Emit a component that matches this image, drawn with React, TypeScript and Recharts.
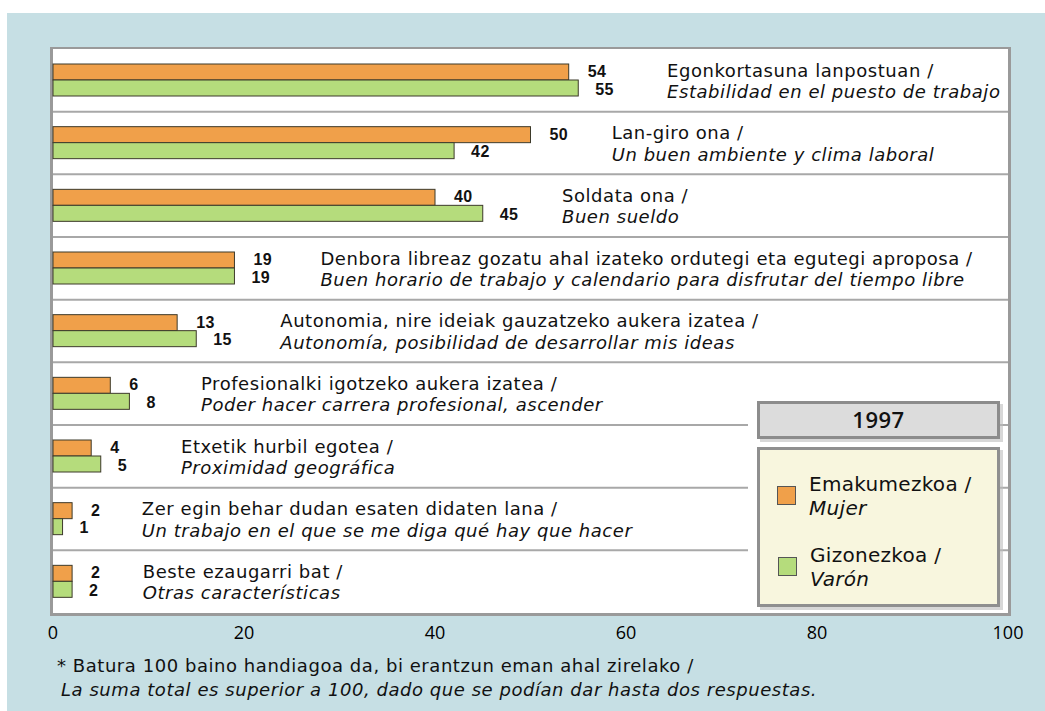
import React from 'react';
import { BarChart, Bar, XAxis, YAxis, CartesianGrid } from 'recharts';

// ---------- data ----------
const basqueLabels = [
  'Egonkortasuna lanpostuan /',
  'Lan-giro ona /',
  'Soldata ona /',
  'Denbora libreaz gozatu ahal izateko ordutegi eta egutegi aproposa /',
  'Autonomia, nire ideiak gauzatzeko aukera izatea /',
  'Profesionalki igotzeko aukera izatea /',
  'Etxetik hurbil egotea /',
  'Zer egin behar dudan esaten didaten lana /',
  'Beste ezaugarri bat /',
];
const spanishLabels = [
  'Estabilidad en el puesto de trabajo',
  'Un buen ambiente y clima laboral',
  'Buen sueldo',
  'Buen horario de trabajo y calendario para disfrutar del tiempo libre',
  'Autonomía, posibilidad de desarrollar mis ideas',
  'Poder hacer carrera profesional, ascender',
  'Proximidad geográfica',
  'Un trabajo en el que se me diga qué hay que hacer',
  'Otras características',
];
const womenValues = [54, 50, 40, 19, 13, 6, 4, 2, 2];
const menValues = [55, 42, 45, 19, 15, 8, 5, 1, 2];
const xTicks = [0, 20, 40, 60, 80, 100];
const legendYear = '1997';
const womenName = ['Emakumezkoa /', 'Mujer'];
const menName = ['Gizonezkoa /', 'Varón'];
const footnoteLines = [
  '* Batura 100 baino handiagoa da, bi erantzun eman ahal zirelako /',
  'La suma total es superior a 100, dado que se podían dar hasta dos respuestas.',
];

// ---------- layout (kept apart from data) ----------
// where each row's text starts, expressed in axis units
const labelStartAt = [64.3, 58.5, 53.3, 28, 23.8, 15.5, 13.4, 9.3, 9.4];

const data = basqueLabels.map((b, i) => ({
  name: 'c' + i,
  basque: b,
  spanish: spanishLabels[i],
  women: womenValues[i],
  men: menValues[i],
}));

const TEXT_FONT = '"DejaVu Sans", Verdana, sans-serif';
const NUM_FONT = '"Liberation Sans", Arial, sans-serif';
const ORANGE = '#F0A04A';
const GREEN = '#B5DC7C';
const BAR_STROKE = '#3d3a2a';
const TEXT_SIZE = 18;
const TEXT_SPACING = 0.55;
const NUM_SIZE = 16;

const WomenBar = (p: any) => {
  const { x, y, width, height, payload } = p;
  return (
    <g>
      <rect x={x} y={y} width={width} height={height} fill={ORANGE} stroke={BAR_STROKE} strokeWidth={1} />
      <text
        x={x + width + 19}
        y={y + height / 2 - 0.5}
        dominantBaseline="central"
        fontFamily={NUM_FONT}
        fontWeight={700}
        fontSize={NUM_SIZE}
        letterSpacing={0.4}
        fill="#111"
      >
        {payload.women}
      </text>
    </g>
  );
};

const MenBar = (p: any) => {
  const { x, y, width, height, payload } = p;
  const idx = typeof p.index === 'number' ? p.index : data.findIndex((d) => d.name === payload.name);
  const unit = width / payload.men;
  const tx = x + labelStartAt[idx] * unit;
  return (
    <g>
      <rect x={x} y={y} width={width} height={height} fill={GREEN} stroke={BAR_STROKE} strokeWidth={1} />
      <text
        x={x + width + 17}
        y={y + height / 2 + 1}
        dominantBaseline="central"
        fontFamily={NUM_FONT}
        fontWeight={700}
        fontSize={NUM_SIZE}
        letterSpacing={0.4}
        fill="#111"
      >
        {payload.men}
      </text>
      <text x={tx} y={y - 3.5} fontFamily={TEXT_FONT} fontSize={TEXT_SIZE} letterSpacing={TEXT_SPACING} fill="#111">
        {payload.basque}
      </text>
      <text
        x={tx}
        y={y + 18}
        fontFamily={TEXT_FONT}
        fontSize={TEXT_SIZE}
        letterSpacing={TEXT_SPACING}
        fontStyle="italic"
        fill="#111"
      >
        {payload.spanish}
      </text>
    </g>
  );
};

const rowBoundaries = (props: any) => {
  const { offset } = props;
  const n = data.length;
  const out: number[] = [];
  for (let i = 1; i < n; i++) out.push(offset.top + (offset.height * i) / n);
  return out;
};

export default function App() {
  return (
    <div style={{ position: 'absolute', left: 0, top: 0, width: 1045, height: 711, background: '#ffffff', overflow: 'hidden' }}>
      {/* blue frame */}
      <div style={{ position: 'absolute', left: 7, top: 13, width: 1038, height: 698, background: '#C6DFE4' }} />
      {/* plot panel */}
      <div
        style={{
          position: 'absolute',
          left: 50,
          top: 47,
          width: 961,
          height: 569,
          boxSizing: 'border-box',
          background: '#ffffff',
          borderLeft: '3px solid #9a9a9a',
          borderTop: '2px solid #9a9a9a',
          borderRight: '3px solid #9a9a9a',
          borderBottom: '3px solid #9a9a9a',
        }}
      />
      <div style={{ position: 'absolute', left: 0, top: 0 }}>
        <BarChart
          width={1045}
          height={711}
          data={data}
          layout="vertical"
          barGap={0}
          margin={{ top: 49, right: 37, bottom: 68, left: 53 }}
        >
          <CartesianGrid
            vertical={false}
            stroke="#a8a8a8"
            strokeWidth={2}
            horizontalCoordinatesGenerator={rowBoundaries}
          />
          <XAxis
            type="number"
            domain={[0, 100]}
            ticks={xTicks}
            interval={0}
            axisLine={false}
            tickLine={false}
            tickMargin={7}
            height={30}
            tick={{ fontSize: 18, fill: '#000', fontFamily: '"Open Sans", sans-serif' }}
          />
          <YAxis type="category" dataKey="name" hide />
          <Bar dataKey="women" barSize={16} shape={WomenBar} isAnimationActive={false} />
          <Bar dataKey="men" barSize={16} shape={MenBar} isAnimationActive={false} />
        </BarChart>
      </div>
      {/* legend + footnote overlay */}
      <svg width={1045} height={711} style={{ position: 'absolute', left: 0, top: 0, pointerEvents: 'none' }}>
        <rect x={748} y={392} width={252} height={220} fill="#ffffff" />
        <rect x={760} y={404} width={243} height={38} fill="#bdbdbd" opacity={0.6} />
        <rect x={758.5} y={402.5} width={240} height={35} fill="#dcdcdc" stroke="#8c8c8c" strokeWidth={3} />
        <text
          x={878.5}
          y={428}
          textAnchor="middle"
          fontFamily='"Open Sans", sans-serif'
          fontWeight={600}
          fontSize={22}
          letterSpacing={0.5}
          fill="#111"
        >
          {legendYear}
        </text>
        <rect x={760} y={450} width={243} height={160} fill="#bdbdbd" opacity={0.6} />
        <rect x={758.5} y={448.5} width={240} height={157} fill="#F8F6DE" stroke="#8f8f8f" strokeWidth={3} />
        <rect x={777.5} y={486.5} width={18} height={18} fill={ORANGE} stroke="#555" strokeWidth={1} />
        <text x={809} y={491} fontFamily={TEXT_FONT} fontSize={20} letterSpacing={0.3} fill="#111">{womenName[0]}</text>
        <text x={809} y={515} fontFamily={TEXT_FONT} fontSize={20} letterSpacing={0.3} fontStyle="italic" fill="#111">{womenName[1]}</text>
        <rect x={778.5} y={557.5} width={18} height={18} fill={GREEN} stroke="#555" strokeWidth={1} />
        <text x={810} y={562} fontFamily={TEXT_FONT} fontSize={20} letterSpacing={0.3} fill="#111">{menName[0]}</text>
        <text x={810} y={586} fontFamily={TEXT_FONT} fontSize={20} letterSpacing={0.3} fontStyle="italic" fill="#111">{menName[1]}</text>
        <text x={57} y={672} fontFamily={TEXT_FONT} fontSize={TEXT_SIZE} letterSpacing={TEXT_SPACING} fill="#111">{footnoteLines[0]}</text>
        <text x={61} y={696} fontFamily={TEXT_FONT} fontSize={TEXT_SIZE} letterSpacing={TEXT_SPACING} fontStyle="italic" fill="#111">{footnoteLines[1]}</text>
      </svg>
    </div>
  );
}
